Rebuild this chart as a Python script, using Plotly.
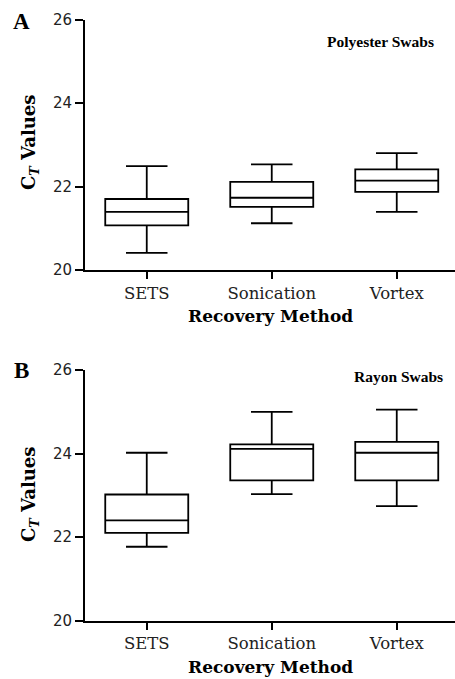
import plotly.graph_objects as go

categories = ["SETS", "Sonication", "Vortex"]

# Panel A: Polyester Swabs
a_low = [20.41, 21.12, 21.39]
a_q1 = [21.07, 21.51, 21.87]
a_med = [21.39, 21.73, 22.14]
a_q3 = [21.70, 22.11, 22.41]
a_high = [22.49, 22.53, 22.80]

# Panel B: Rayon Swabs
b_low = [21.77, 23.03, 22.74]
b_q1 = [22.10, 23.36, 23.36]
b_med = [22.40, 24.11, 24.02]
b_q3 = [23.02, 24.22, 24.28]
b_high = [24.02, 25.00, 25.05]

y_ticks = [20, 22, 24, 26]

W, H = 455, 679
fig = go.Figure()

def add_box(low, q1, med, q3, high, xa, ya):
    fig.add_trace(go.Box(
        x=categories, lowerfence=low, q1=q1, median=med, q3=q3, upperfence=high,
        xaxis=xa, yaxis=ya, width=0.664, whiskerwidth=0.5,
        line=dict(color="black", width=1.8), fillcolor="white",
        boxpoints=False, showlegend=False, hoverinfo="skip",
    ))

add_box(a_low, a_q1, a_med, a_q3, a_high, "x", "y")
add_box(b_low, b_q1, b_med, b_q3, b_high, "x2", "y2")

def px(v):
    return v / W

def py(v):
    return 1 - v / H

xdom = [px(85), 1.0]
ydomA = [py(270), py(19.5)]
ydomB = [py(620.7), py(370)]

tickfont_y = dict(family="DejaVu Sans", size=15, color="#222")
tickfont_x = dict(family="DejaVu Serif", size=16.5, color="#222")

common_x = dict(range=[-0.494, 2.466], showline=True, linecolor="black", linewidth=1.8,
                ticks="outside", ticklen=7, tickwidth=1.6, tickcolor="black",
                tickfont=tickfont_x, showgrid=False, zeroline=False, domain=xdom,
                categoryorder="array", categoryarray=categories)
common_y = dict(range=[20, 26], tickvals=y_ticks, showline=True, linecolor="black",
                linewidth=1.8, ticks="outside", ticklen=8, tickwidth=1.6,
                tickcolor="black", tickfont=tickfont_y, showgrid=False, zeroline=False)

fig.update_layout(
    width=W, height=H, margin=dict(l=0, r=0, t=0, b=0, autoexpand=False),
    paper_bgcolor="white", plot_bgcolor="white",
    xaxis=dict(common_x, anchor="y"),
    yaxis=dict(common_y, domain=ydomA, anchor="x"),
    xaxis2=dict(common_x, anchor="y2"),
    yaxis2=dict(common_y, domain=ydomB, anchor="x2"),
)

ann = []
def add_text(text, x, y, size, family="Liberation Serif", angle=0):
    ann.append(dict(text=text, x=px(x), y=py(y), xref="paper", yref="paper",
                    showarrow=False, textangle=angle, xanchor="center", yanchor="middle",
                    font=dict(family=family, size=size, color="black")))

add_text("<b>A</b>", 21, 22, 23)
add_text("<b>B</b>", 21, 371, 23)
add_text("<b>Polyester Swabs</b>", 380, 41, 15.5)
add_text("<b>Rayon Swabs</b>", 398, 376, 15.5)
add_text("<b>C<sub><i>T</i></sub> Values</b>", 30, 143, 18, family="DejaVu Serif", angle=-90)
add_text("<b>C<sub><i>T</i></sub> Values</b>", 30, 495, 18, family="DejaVu Serif", angle=-90)
add_text("<b>Recovery Method</b>", 270, 316, 17, family="DejaVu Serif")
add_text("<b>Recovery Method</b>", 270, 667, 17, family="DejaVu Serif")
fig.update_layout(annotations=ann)

# remove the default page margin so the 455x679 figure fills the window
fig.write_html("out.html",
               config={"displayModeBar": False},
               post_script="document.body.style.margin='0';document.body.style.overflow='hidden';")
